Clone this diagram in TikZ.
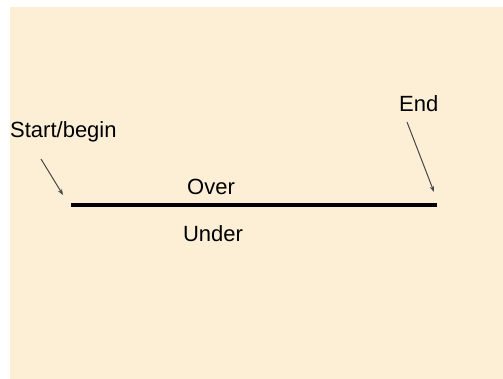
\documentclass[tikz,border=0pt]{standalone}
\usepackage{fontspec}
\setmainfont{Liberation Sans}
\usepackage{tikz}
\usetikzlibrary{arrows.meta}

\definecolor{parchment}{RGB}{252,239,214}
\definecolor{pointer}{RGB}{70,70,70}

\tikzset{
  word/.style={inner sep=0pt, font=\fontsize{22}{26}\selectfont},
  pointer/.style={draw=pointer, line width=1pt, -{Stealth[length=6pt,width=4.5pt]}}
}

\begin{document}
\begin{tikzpicture}[x=1pt, y=1pt]

% Page and paper
\useasboundingbox (0, 0) rectangle (503, 379);
\fill[white] (0, 0) rectangle (503, 379);
\fill[parchment] (10, 0) rectangle (503, 372);

% The main line
\coordinate (left) at (71, 174);
\coordinate (right) at (437, 174);
\draw[line width=4pt] (left) -- (right);

% Labels
\node[word, anchor=base west] (startlbl) at (10, 241) {Start/begin};
\node[word, anchor=base west] (endlbl) at (399, 267) {End};
\node[word, anchor=base] (over) at (211, 184) {Over};
\node[word, anchor=base] (under) at (213, 137) {Under};

% Pointers to the ends of the line
\coordinate (starttail) at (41, 220);
\coordinate (starthead) at (63, 184);
\coordinate (endtail) at (407, 257);
\coordinate (endhead) at (434, 187);
\draw[pointer] (starttail) -- (starthead);
\draw[pointer] (endtail) -- (endhead);

\end{tikzpicture}
\end{document}
